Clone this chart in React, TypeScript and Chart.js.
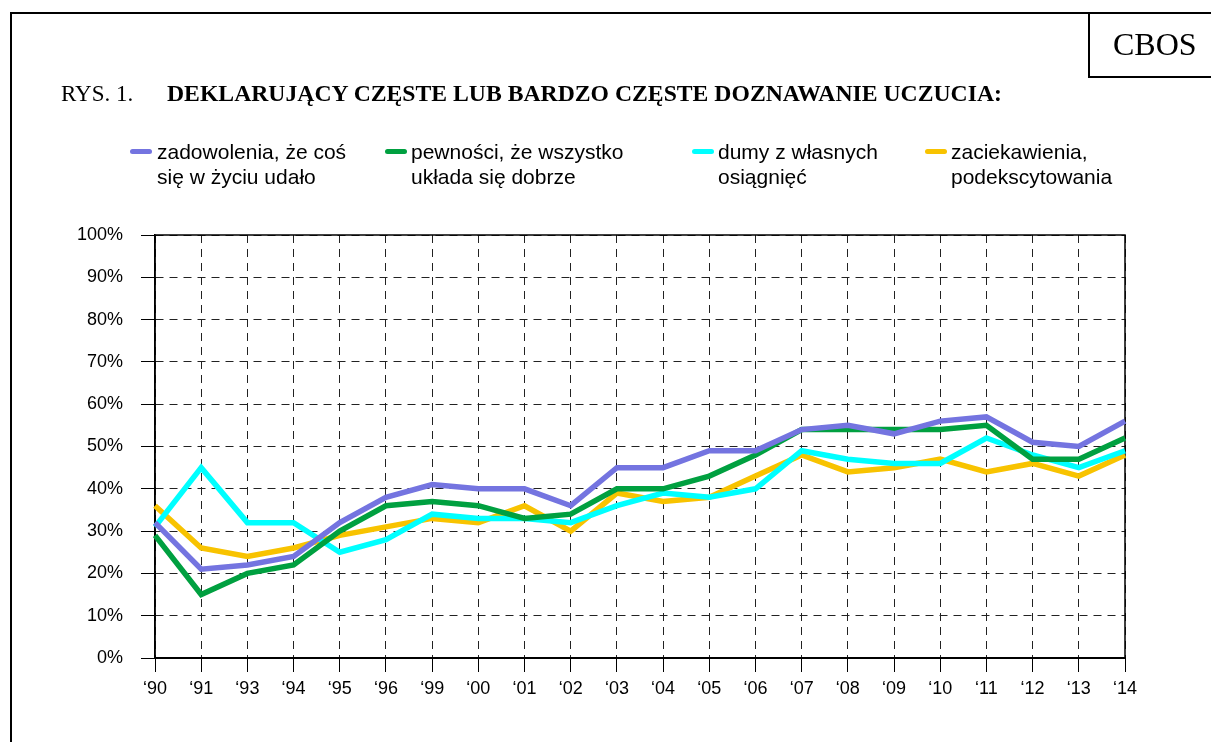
import React, { useEffect, useRef } from "react";
import { Chart, registerables } from "chart.js";

Chart.register(...registerables);

const years = ["‘90", "‘91", "‘93", "‘94", "‘95", "‘96", "‘99", "‘00", "‘01", "‘02", "‘03", "‘04", "‘05", "‘06", "‘07", "‘08", "‘09", "‘10", "‘11", "‘12", "‘13", "‘14"];
const zadowolenia = [32, 21, 22, 24, 32, 38, 41, 40, 40, 36, 45, 45, 49, 49, 54, 55, 53, 56, 57, 51, 50, 56];
const pewnosci = [29, 15, 20, 22, 30, 36, 37, 36, 33, 34, 40, 40, 43, 48, 54, 54, 54, 54, 55, 47, 47, 52];
const dumy = [31, 45, 32, 32, 25, 28, 34, 33, 33, 32, 36, 39, 38, 40, 49, 47, 46, 46, 52, 48, 45, 49];
const zaciekawienia = [36, 26, 24, 26, 29, 31, 33, 32, 36, 30, 39, 37, 38, 43, 48, 44, 45, 47, 44, 46, 43, 48];

const seriesLabels = [
  ["zadowolenia, że coś", "się w życiu udało"],
  ["pewności, że wszystko", "układa się dobrze"],
  ["dumy z własnych", "osiągnięć"],
  ["zaciekawienia,", "podekscytowania"],
];
const seriesData = [zadowolenia, pewnosci, dumy, zaciekawienia];
const seriesColors = ["#7474E0", "#00A040", "#00FFFF", "#F8C300"];

const titlePrefix = "RYS. 1.";
const titleMain = "DEKLARUJĄCY CZĘSTE LUB BARDZO CZĘSTE DOZNAWANIE UCZUCIA:";
const brand = "CBOS";

const legendMarkerX = [130, 385, 692, 925];
const legendTextX = [157, 411, 718, 951];

const SANS = "'Liberation Sans', Arial, Helvetica, sans-serif";
const SERIF = "'Liberation Serif', 'Times New Roman', Times, serif";

const framePlugin = {
  id: "plotFrame",
  beforeDatasetsDraw(chart: any) {
    const { ctx, chartArea } = chart;
    const { left, top, right, bottom } = chartArea;
    ctx.save();
    ctx.setLineDash([]);
    ctx.strokeStyle = "#000";
    ctx.lineWidth = 1.5;
    ctx.beginPath();
    ctx.moveTo(left, bottom);
    ctx.lineTo(left, top);
    ctx.lineTo(right, top);
    ctx.lineTo(right, bottom);
    ctx.stroke();
    ctx.lineWidth = 2;
    ctx.beginPath();
    ctx.moveTo(left, bottom);
    ctx.lineTo(right, bottom);
    ctx.stroke();
    ctx.restore();
  },
};

export default function App() {
  const canvasRef = useRef<HTMLCanvasElement | null>(null);

  useEffect(() => {
    if (!canvasRef.current) return;
    const chart = new Chart(canvasRef.current, {
      type: "line",
      data: {
        labels: years,
        datasets: seriesData.map((d, i) => ({
          label: seriesLabels[i].join(" "),
          data: d,
          borderColor: seriesColors[i],
          backgroundColor: seriesColors[i],
          borderWidth: 5.5,
          pointRadius: 0,
          pointHoverRadius: 0,
          tension: 0,
          fill: false,
        })),
      },
      options: {
        responsive: false,
        animation: false,
        devicePixelRatio: 1,
        events: [],
        layout: { padding: { left: 0, top: 235, right: 86, bottom: 0 } },
        plugins: {
          legend: { display: false },
          tooltip: { enabled: false },
          title: { display: false },
        },
        scales: {
          x: {
            type: "category",
            offset: false,
            afterFit: (scale: any) => {
              scale.height = 84;
            },
            grid: {
              offset: false,
              color: "#222",
              lineWidth: 1,
              tickLength: 14,
              tickColor: "#000",
              tickWidth: 1,
              tickBorderDash: [],
            } as any,
            border: { display: true, color: "#000", width: 2, dash: [8, 6] } as any,
            ticks: {
              autoSkip: false,
              maxRotation: 0,
              minRotation: 0,
              padding: 6,
              color: "#000",
              font: { family: SANS, size: 18 },
            },
          },
          y: {
            min: 0,
            max: 100,
            afterFit: (scale: any) => {
              scale.width = 155;
            },
            grid: {
              color: "#222",
              lineWidth: 1,
              tickLength: 14,
              tickColor: "#000",
              tickWidth: 1,
              tickBorderDash: [],
            } as any,
            border: { display: true, color: "#000", width: 1.5, dash: [8, 6] } as any,
            ticks: {
              stepSize: 10,
              padding: 18,
              color: "#000",
              font: { family: SANS, size: 18 },
              callback: (v: any) => `${v}%`,
            },
          },
        },
      },
      plugins: [framePlugin],
    });
    return () => chart.destroy();
  }, []);

  return (
    <div
      style={{
        position: "fixed",
        left: 0,
        top: 0,
        width: 1211,
        height: 742,
        overflow: "hidden",
        background: "#fff",
      }}
    >
      <canvas
        ref={canvasRef}
        width={1211}
        height={742}
        style={{ position: "absolute", left: 0, top: 0, width: 1211, height: 742 }}
      />
      {/* outer frame */}
      <div
        style={{
          position: "absolute",
          left: 10,
          top: 12,
          width: 1400,
          height: 1000,
          borderLeft: "2px solid #000",
          borderTop: "2px solid #000",
          pointerEvents: "none",
        }}
      />
      {/* brand box */}
      <div
        style={{
          position: "absolute",
          left: 1088,
          top: 12,
          width: 300,
          height: 64,
          borderLeft: "2px solid #000",
          borderBottom: "2px solid #000",
        }}
      />
      <div
        style={{
          position: "absolute",
          left: 1113,
          top: 28,
          fontFamily: SERIF,
          fontSize: 32,
          lineHeight: 1,
          whiteSpace: "nowrap",
          color: "#000",
        }}
      >
        {brand}
      </div>
      {/* title */}
      <div
        style={{
          position: "absolute",
          left: 61,
          top: 82,
          fontFamily: SERIF,
          fontSize: 23,
          lineHeight: 1,
          whiteSpace: "nowrap",
          color: "#000",
        }}
      >
        <span>{titlePrefix}</span>
        <span style={{ position: "absolute", left: 106, top: 0, fontWeight: "bold", fontSize: 23.7 }}>
          {titleMain}
        </span>
      </div>
      {/* legend */}
      {seriesLabels.map((lines, i) => (
        <React.Fragment key={i}>
          <div
            style={{
              position: "absolute",
              left: legendMarkerX[i],
              top: 149,
              width: 22,
              height: 5,
              borderRadius: 3,
              background: seriesColors[i],
            }}
          />
          <div
            style={{
              position: "absolute",
              left: legendTextX[i],
              top: 139,
              fontFamily: SANS,
              fontSize: 21,
              lineHeight: "25px",
              whiteSpace: "nowrap",
              color: "#000",
            }}
          >
            {lines.map((l, j) => (
              <div key={j}>{l}</div>
            ))}
          </div>
        </React.Fragment>
      ))}
    </div>
  );
}
